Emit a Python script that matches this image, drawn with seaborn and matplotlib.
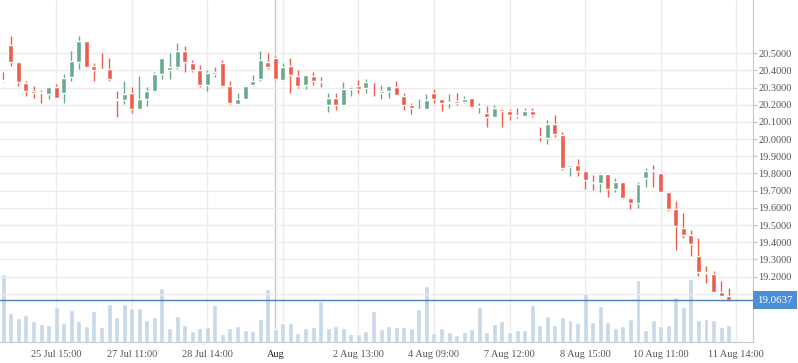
import numpy as np
import pandas as pd
import matplotlib
matplotlib.use("Agg")
import matplotlib.pyplot as plt
import seaborn as sns

# data candle
opens = [20.344, 20.547, 20.449, 20.326, 20.274, 20.270, 20.264, 20.303, 20.270, 20.363,
         20.450, 20.571, 20.425, 20.406, 20.408, 20.229, 20.229, 20.268, 20.177, 20.235,
         20.280, 20.379, 20.404, 20.419, 20.512, 20.443, 20.402, 20.315, 20.379, 20.443,
         20.309, 20.204, 20.233, 20.315, 20.350, 20.449, 20.472, 20.344, 20.425, 20.367,
         20.317, 20.367, 20.338, 20.200, 20.239, 20.200, 20.293, 20.309, 20.299, 20.332,
         20.270, 20.282, 20.303, 20.251, 20.200, 20.171, 20.175, 20.268, 20.233, 20.212,
         20.222, 20.216, 20.237, 20.187, 20.152, 20.129, 20.177, 20.164, 20.140, 20.135,
         20.164, 20.013, 20.007, 20.088, 20.024, 19.840, 19.850, 19.815, 19.751, 19.747,
         19.797, 19.710, 19.751, 19.658, 19.629, 19.774, 19.815, 19.803, 19.693, 19.594,
         19.483, 19.443, 19.321, 19.222, 19.216, 19.111, 19.088]
highs = [20.390, 20.600, 20.449, 20.338, 20.309, 20.284, 20.303, 20.319, 20.381, 20.512,
         20.600, 20.571, 20.443, 20.501, 20.472, 20.280, 20.338, 20.303, 20.367, 20.303,
         20.389, 20.472, 20.501, 20.559, 20.542, 20.460, 20.431, 20.402, 20.419, 20.460,
         20.338, 20.268, 20.315, 20.373, 20.512, 20.501, 20.483, 20.443, 20.472, 20.402,
         20.373, 20.390, 20.361, 20.268, 20.268, 20.332, 20.309, 20.344, 20.350, 20.332,
         20.315, 20.309, 20.338, 20.268, 20.210, 20.233, 20.263, 20.292, 20.233, 20.263,
         20.268, 20.251, 20.237, 20.210, 20.193, 20.199, 20.181, 20.175, 20.181, 20.181,
         20.181, 20.071, 20.111, 20.140, 20.042, 19.850, 19.885, 19.821, 19.792, 19.803,
         19.797, 19.774, 19.751, 19.664, 19.751, 19.832, 19.850, 19.809, 19.693, 19.640,
         19.571, 19.472, 19.425, 19.263, 19.233, 19.175, 19.135]
lows = [20.332, 20.427, 20.311, 20.253, 20.239, 20.212, 20.233, 20.241, 20.212, 20.340,
        20.410, 20.421, 20.340, 20.400, 20.340, 20.130, 20.202, 20.152, 20.171, 20.194,
        20.276, 20.351, 20.351, 20.408, 20.392, 20.392, 20.303, 20.280, 20.361, 20.303,
        20.204, 20.199, 20.233, 20.309, 20.338, 20.408, 20.344, 20.338, 20.268, 20.299,
        20.292, 20.317, 20.305, 20.160, 20.170, 20.200, 20.253, 20.268, 20.268, 20.253,
        20.235, 20.241, 20.258, 20.170, 20.146, 20.170, 20.170, 20.212, 20.164, 20.181,
        20.199, 20.210, 20.181, 20.152, 20.071, 20.129, 20.071, 20.111, 20.123, 20.129,
        20.129, 19.989, 19.972, 20.013, 19.822, 19.788, 19.788, 19.710, 19.704, 19.693,
        19.664, 19.693, 19.652, 19.594, 19.600, 19.722, 19.722, 19.693, 19.582, 19.356,
        19.425, 19.321, 19.204, 19.164, 19.111, 19.084, 19.061]
closes = [20.338, 20.450, 20.334, 20.282, 20.271, 20.267, 20.303, 20.241, 20.356, 20.454,
          20.571, 20.421, 20.404, 20.400, 20.351, 20.226, 20.263, 20.177, 20.233, 20.280,
          20.379, 20.472, 20.419, 20.512, 20.450, 20.402, 20.315, 20.385, 20.390, 20.309,
          20.210, 20.233, 20.309, 20.338, 20.460, 20.419, 20.350, 20.419, 20.373, 20.311,
          20.373, 20.338, 20.334, 20.239, 20.200, 20.292, 20.303, 20.292, 20.332, 20.330,
          20.280, 20.309, 20.258, 20.200, 20.183, 20.175, 20.228, 20.235, 20.210, 20.216,
          20.210, 20.233, 20.187, 20.193, 20.129, 20.181, 20.164, 20.140, 20.137, 20.164,
          20.140, 20.010, 20.088, 20.030, 19.834, 19.850, 19.817, 19.763, 19.747, 19.797,
          19.710, 19.751, 19.656, 19.629, 19.739, 19.815, 19.812, 19.693, 19.594, 19.495,
          19.443, 19.390, 19.228, 19.219, 19.111, 19.088, 19.0637]
volumes = [68, 29, 24, 27, 21, 18, 17, 35, 19, 32,
           21, 16, 31, 15, 38, 25, 38, 34, 34, 22,
           25, 54, 14, 26, 17, 11, 14, 15, 37, 8,
           14, 16, 12, 11, 23, 53, 13, 19, 19, 9,
           14, 15, 41, 14, 16, 14, 8, 8, 11, 31,
           13, 16, 15, 15, 14, 33, 56, 9, 14, 10,
           7, 10, 13, 35, 10, 18, 21, 10, 12, 12,
           37, 17, 26, 17, 25, 22, 19, 49, 20, 36,
           20, 14, 16, 23, 62, 12, 22, 16, 17, 45,
           35, 63, 22, 23, 22, 15, 17]

tick_pos = [7, 17, 27, 37, 47, 57, 67, 77, 87, 97]
tick_labels = ['25 Jul 15:00', '27 Jul 11:00', '28 Jul 14:00', '', '2 Aug 13:00',
               '4 Aug 09:00', '7 Aug 12:00', '8 Aug 15:00', '10 Aug 11:00', '11 Aug 14:00']
month_pos = 36
month_label = 'Aug'
last_price = 19.0637

df = pd.DataFrame({'open': opens, 'high': highs, 'low': lows, 'close': closes, 'volume': volumes})
df['idx'] = np.arange(len(df))

UP = '#6aaa8c'
DOWN = '#ee5e4e'
VOL = '#c6d8e9'
GRID = '#ececec'
TXT = '#555555'

sns.set_style('white')
plt.rcParams['font.family'] = ['Liberation Serif', 'DejaVu Serif']

fig = plt.figure(figsize=(7.98, 3.63), dpi=100)
ax_v = fig.add_axes([0, 21 / 363, 753 / 798, 342 / 363])
ax = ax_v.twinx()

# volume
sns.barplot(data=df, x='idx', y='volume', native_scale=True, color=VOL,
            width=0.66, saturation=1, ax=ax_v, zorder=2)
ax_v.set_ylim(0, 342)
ax_v.set_yticks([])
ax_v.set_ylabel('')
ax_v.set_xlabel('')

# grid vertikal
for p in tick_pos:
    ax_v.axvline(p, color=GRID, lw=1, zorder=0)
ax_v.axvline(month_pos, color='#c8c8c8', lw=1, zorder=1)

ax_v.set_xlim(-0.437, 99.22)
ax_v.set_xticks(tick_pos + [month_pos])
ax_v.set_xticklabels(tick_labels + [month_label])
for lbl in ax_v.get_xticklabels():
    lbl.set_color(TXT)
ax_v.get_xticklabels()[-1].set_color('#222222')
ax_v.tick_params(axis='x', length=4, color='#c0c0c0', pad=2, labelsize=7.4)
for s in ['top', 'left', 'right']:
    ax_v.spines[s].set_visible(False)
ax_v.spines['bottom'].set_color('#c8c8c8')

# candle
up = df['close'] >= df['open']
colors = np.where(up, UP, DOWN)
body_low = np.minimum(df['open'], df['close'])
body_h = np.maximum(np.abs(df['close'] - df['open']), 0.006)
ax.vlines(df['idx'], df['low'], df['high'], colors=colors, lw=1, zorder=3)
ax.bar(df['idx'], body_h, bottom=body_low, width=0.66, color=colors, zorder=4)

ax.set_ylim(18.820, 20.809)
yt = np.round(np.arange(19.1, 20.51, 0.1), 1)
ax.set_yticks(yt)
ax.set_yticklabels([''] + [f'{v:.4f}' for v in yt[1:]])
ax.grid(axis='y', color=GRID, lw=1)
ax.set_axisbelow(True)
ax.tick_params(axis='y', length=3, color='#c0c0c0', pad=1, labelsize=7.4, labelcolor=TXT)
for s in ['top', 'left', 'bottom']:
    ax.spines[s].set_visible(False)
ax.spines['right'].set_color('#c8c8c8')

# harga terakhir
ax.axhline(last_price, color='#4a7ebb', lw=1, zorder=5)
ax.annotate(f'{last_price:.4f}', xy=(1, last_price), xycoords=('axes fraction', 'data'),
            xytext=(3, 0), textcoords='offset points', va='center', ha='left',
            color='white', fontsize=7.8,
            bbox=dict(boxstyle='square,pad=0.4', fc='#4a8fd8', ec='none'),
            annotation_clip=False, zorder=6)

plt.savefig('out.png', dpi=100)
